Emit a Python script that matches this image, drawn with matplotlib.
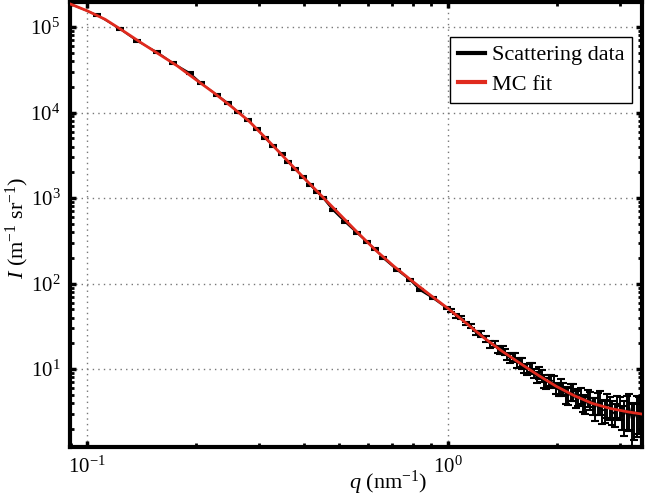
import matplotlib
matplotlib.use("Agg")
import numpy as np
import matplotlib.pyplot as plt
from matplotlib.lines import Line2D

plt.rcParams["font.family"] = ["Liberation Serif", "DejaVu Serif"]
plt.rcParams["mathtext.fontset"] = "custom"
plt.rcParams["mathtext.rm"] = "Liberation Serif"
plt.rcParams["mathtext.it"] = "Liberation Serif:italic"
plt.rcParams["mathtext.default"] = "regular"
plt.rcParams["axes.unicode_minus"] = False

# Scattering data (q in nm^-1, I in m^-1 sr^-1, absolute errors)
q_data = [0.0897, 0.1067, 0.1233, 0.1377, 0.1563, 0.1730, 0.1928, 0.2070, 0.2291, 0.2460,
          0.2618, 0.2793, 0.2958, 0.3112, 0.3273, 0.3467, 0.3606, 0.3767, 0.3963, 0.4150,
          0.4335, 0.4508, 0.4797, 0.5188, 0.5598, 0.5970, 0.6281, 0.6607, 0.7228, 0.7852,
          0.8356, 0.9078, 0.9931,
          1.023, 1.054, 1.089, 1.122, 1.159, 1.194, 1.233, 1.271, 1.312, 1.352,
          1.396, 1.439, 1.486, 1.531, 1.581, 1.629, 1.683, 1.734, 1.791, 1.845,
          1.905, 1.963, 2.028, 2.089, 2.158, 2.223, 2.296, 2.366, 2.443, 2.518,
          2.600, 2.679, 2.767, 2.851, 2.944, 3.034, 3.133, 3.228, 3.334, 3.420]
I_data = [186000, 138000, 94800, 68500, 51000, 37900, 29000, 22100, 16030, 12910,
          10140, 8170, 6410, 5040, 4055, 3270, 2640, 2180, 1760, 1420,
          1175, 1000, 724, 524, 390, 305, 254, 199, 144, 110,
          84.0, 67.6, 51.6,
          48.5, 41.9, 40.2, 34.3, 32.1, 26.7, 26.1, 22.8, 19.5, 19.7,
          16.4, 16.1, 13.3, 13.9, 12.1, 10.1, 10.5, 8.93, 9.06, 7.29,
          7.45, 7.21, 5.69, 5.90, 4.90, 5.46, 4.79, 4.05, 4.65, 3.79,
          4.09, 3.28, 3.89, 3.21, 3.76, 2.84, 3.41, 2.65, 3.20, 2.49]
I_err = [4000, 3000, 2000, 1500, 1100, 800, 600, 450, 330, 270,
         210, 170, 130, 100, 85, 68, 55, 45, 37, 30,
         25, 21, 15, 11, 8.5, 6.8, 5.8, 4.6, 3.4, 2.7,
         2.1, 1.8, 1.5,
         2.4, 2.1, 2.0, 1.7, 1.6, 1.3, 2.1, 1.8, 1.6, 1.6,
         1.3, 1.3, 1.6, 1.7, 1.45, 1.2, 1.3, 1.1, 1.45, 1.2,
         1.2, 1.15, 0.9, 0.95, 1.1, 1.2, 1.05, 0.9, 1.0, 0.85,
         1.2, 1.0, 1.2, 1.0, 1.1, 0.9, 1.5, 1.4, 1.6, 1.4]

# extra high-q data points (dense, noisy region)
q_extra = [1.374, 1.419, 1.462, 1.510, 1.556, 1.607, 1.656, 1.710, 1.762, 1.820,
           1.875, 1.936, 1.995, 2.061, 2.123, 2.193, 2.259, 2.333, 2.404, 2.483,
           2.559, 2.642, 2.723, 2.812, 2.897, 2.992, 3.083, 3.184, 3.281, 3.381]
I_extra = [17.1, 16.8, 14.1, 13.9, 11.5, 11.8, 9.93, 10.2, 8.05, 8.39,
           6.92, 7.40, 6.03, 6.31, 5.02, 5.43, 4.50, 4.98, 3.88, 4.36,
           3.55, 4.21, 3.37, 3.64, 2.99, 3.66, 2.94, 3.53, 2.69, 3.24]
err_extra = [1.7, 1.7, 1.4, 1.4, 1.2, 1.8, 1.5, 1.5, 1.2, 1.3,
             1.0, 1.1, 0.9, 1.4, 1.1, 1.2, 1.0, 1.1, 0.85, 1.0,
             1.1, 1.3, 1.0, 1.1, 0.9, 1.1, 1.3, 1.6, 1.2, 1.5]

# Monte Carlo fit
q_fit = [0.0891, 0.1000, 0.1122, 0.1259, 0.1413, 0.1585, 0.1778, 0.1995, 0.2239, 0.2512,
         0.2818, 0.3162, 0.3548, 0.3981, 0.4467, 0.5012, 0.5623, 0.6310, 0.7079, 0.7943,
         0.8913, 1.000, 1.122, 1.259, 1.413, 1.585, 1.778, 1.995, 2.239, 2.512,
         2.818, 3.162, 3.44]
I_fit = [188400, 154900, 123000, 90200, 65300, 47900, 35100, 24500, 17200, 11750,
         7850, 4790, 2880, 1740, 1060, 646, 394, 245, 160, 108,
         74.1, 51.3, 34.7, 23.2, 16.2, 11.7, 8.51, 6.31, 4.90, 3.98,
         3.47, 3.16, 2.99]

# merge data and sort by q
q_all = np.array(q_data + q_extra)
I_all = np.array(I_data + I_extra)
e_all = np.array(I_err + err_extra)
order = np.argsort(q_all)
q_all, I_all, e_all = q_all[order], I_all[order], e_all[order]

red = "#e02a1e"

fig = plt.figure(figsize=(6.46, 5.01), dpi=100)
ax = fig.add_axes([0.1084, 0.1078, 0.8854, 0.8882])

ax.errorbar(q_all, I_all, yerr=e_all, color="black", lw=1.2, elinewidth=1.4,
            capsize=3, capthick=1.5, zorder=2)
ax.plot(q_fit, I_fit, color=red, lw=2, zorder=3)

ax.set_xscale("log")
ax.set_yscale("log")
ax.set_xlim(0.0897, 3.45)
ax.set_ylim(1.23, 1.96e5)

ax.grid(True, which="major", linestyle=(0, (1, 3)), color="#777777", lw=1)
ax.tick_params(which="both", direction="in", top=True, right=True, labelsize=15, pad=7)
ax.tick_params(which="major", length=4, width=2.5)
ax.tick_params(which="minor", length=3, width=2)
for s in ax.spines.values():
    s.set_linewidth(3)

ax.set_xlabel(r"$\mathit{q}$ (nm$^{-1}$)", fontsize=16)
ax.set_ylabel(r"$\mathit{I}$ (m$^{-1}$ sr$^{-1}$)", fontsize=16)
ax.xaxis.set_label_coords(0.556, -0.05)
ax.yaxis.set_label_coords(-0.068, 0.492)

handles = [Line2D([], [], color="black", lw=3), Line2D([], [], color=red, lw=3)]
leg = ax.legend(handles, ["Scattering data", "MC fit"], loc="upper right",
                bbox_to_anchor=(0.9825, 0.921), borderaxespad=0, fontsize=16,
                frameon=True, fancybox=False, edgecolor="black", framealpha=1,
                handlelength=1.2, handletextpad=0.3, borderpad=0.35, labelspacing=0.4)
leg.get_frame().set_linewidth(1)

fig.savefig("out.png", dpi=100)
